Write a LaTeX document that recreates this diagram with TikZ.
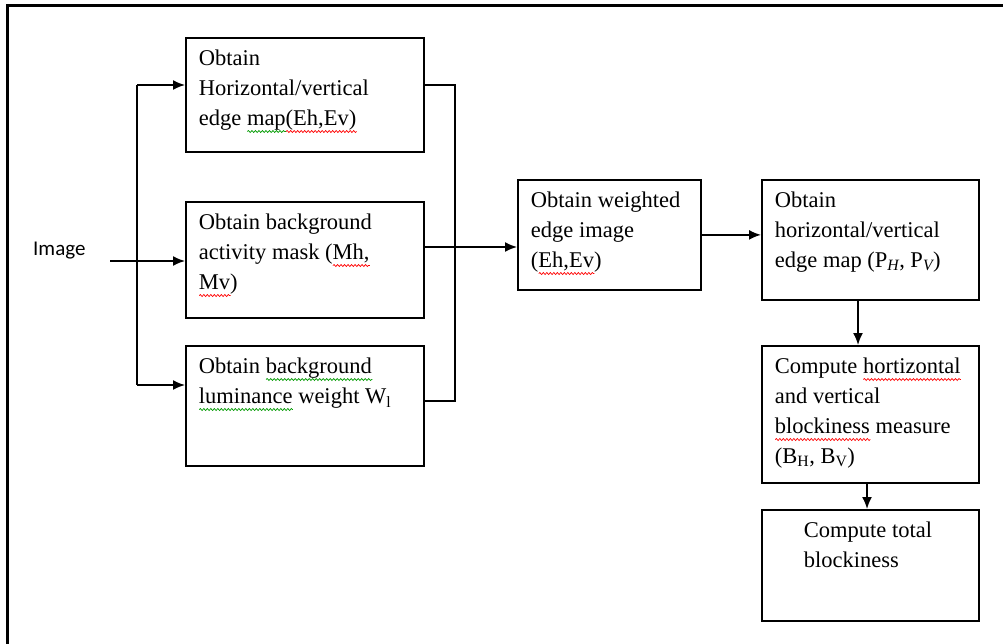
\documentclass[tikz,border=0pt]{standalone}
\usepackage{fontspec}
\setmainfont{Liberation Serif}
\newfontfamily\labelfont{Carlito}
\usetikzlibrary{arrows.meta,decorations.pathmorphing}
\newlength{\wavelen}
\newcommand{\wavy}[2]{\leavevmode\settowidth{\wavelen}{#2}\rlap{\raisebox{-6pt}{\tikz[baseline=0pt]\draw[#1,line width=0.7pt,decorate,decoration={snake,amplitude=1pt,segment length=3.5pt}] (0pt,0pt) -- (\wavelen,0pt);}}#2}
\newcommand{\redwave}[1]{\wavy{red}{#1}}
\newcommand{\greenwave}[1]{\wavy{green!60!black}{#1}}
\newcommand{\stagetext}[3]{\parbox[c][#2][t]{#1}{\raggedright#3}}
\tikzstyle{stage} = [draw,rectangle,anchor=north west,line width=1.8pt,inner xsep=13pt,inner ysep=12pt,font=\fontsize{22.5}{30}\selectfont]
\tikzstyle{link}  = [line width=1.7pt]

\begin{document}
\begin{tikzpicture}[x=1pt,y=-1pt,>={Latex[length=12pt,width=10pt]}]
\useasboundingbox (0,0) rectangle (1003,644);
\draw[line width=3pt] (7,6) rectangle (1015,655);

\node[anchor=base west,inner sep=0pt,font=\labelfont\fontsize{21}{25}\selectfont] (img) at (33,255) {Image};

% left column
\node[stage] (hv)   at (185,37)  {\stagetext{212pt}{90pt}{Obtain\\Horizontal/vertical\\edge \greenwave{map}\redwave{(Eh,Ev)}}};
\node[stage] (mask) at (185,201) {\stagetext{212pt}{92pt}{Obtain background\\activity mask (\redwave{Mh,}\\\redwave{Mv})}};
\node[stage] (lum)  at (185,345) {\stagetext{212pt}{96pt}{Obtain \greenwave{background}\\\greenwave{luminance} weight W\textsubscript{l}}};

% middle and right
\node[stage] (weighted) at (517,179) {\stagetext{157pt}{86pt}{Obtain weighted\\edge image\\(\redwave{Eh,Ev})}};
\node[stage] (edgemap)  at (761,179) {\stagetext{191pt}{96pt}{Obtain\\horizontal/vertical\\edge map (P\textsubscript{\itshape H}, P\textsubscript{\itshape V})}};
\node[stage] (blockhv)  at (761,345) {\stagetext{191pt}{113pt}{Compute \redwave{hortizontal}\\and vertical\\\redwave{blockiness} measure\\(B\textsubscript{H}, B\textsubscript{V})}};
\node[stage] (total)    at (761,509) {\stagetext{191pt}{87pt}{\leftskip=29pt Compute total\\blockiness}};

\coordinate (fork)    at (110,261);
\coordinate (up)      at (137,85);
\coordinate (down)    at (137,385);
\coordinate (join)    at (455,85);
\coordinate (joinlow) at (455,401);
\coordinate (merge)   at (455,247);
\coordinate (drop)    at (858,0);
\coordinate (droplow) at (867,0);

\draw[link,->] (fork) -- (fork -| mask.west);
\draw[link] (up) -- (down);
\draw[link,->] (up) -- (up -| hv.west);
\draw[link,->] (down) -- (down -| lum.west);

\draw[link] (join -| hv.east) -- (join) -- (joinlow) -- (joinlow -| lum.east);
\draw[link,->] (merge -| mask.east) -- (merge -| weighted.west);
\draw[link,->] (weighted.east) -- (weighted.east -| edgemap.west);
\draw[link,->] (drop |- edgemap.south) -- (drop |- blockhv.north);
\draw[link,->] (droplow |- blockhv.south) -- (droplow |- total.north);

\end{tikzpicture}
\end{document}
